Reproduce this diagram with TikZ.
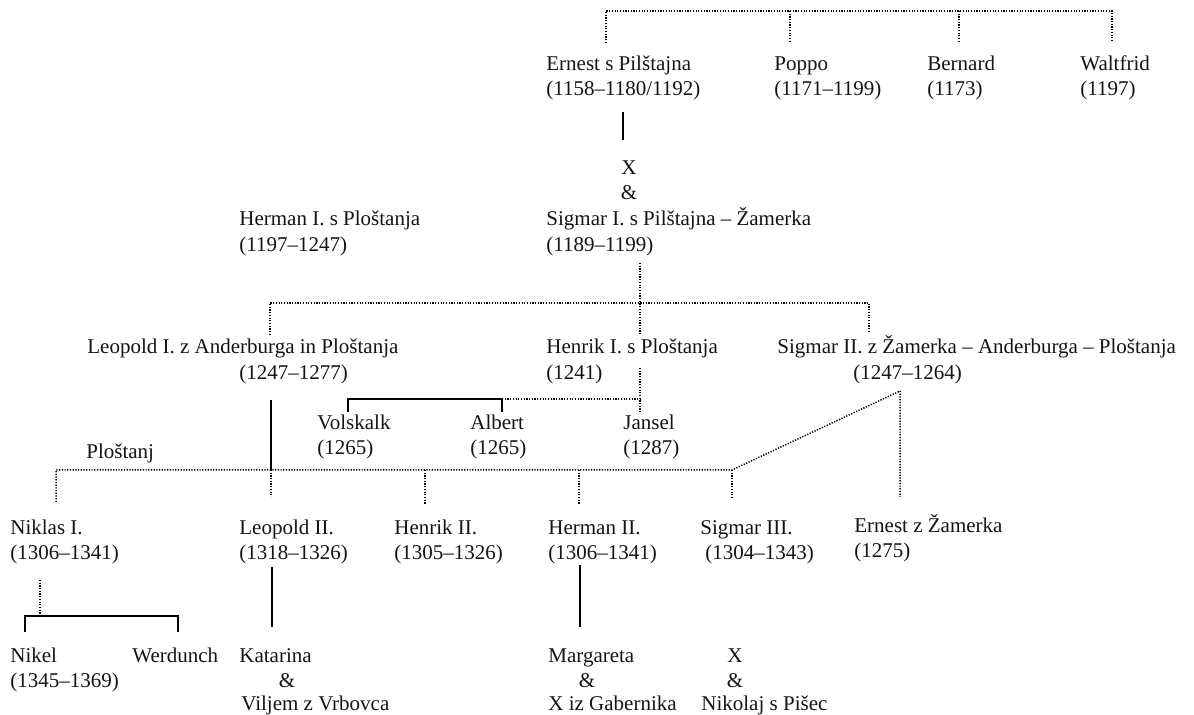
\documentclass[tikz,border=0pt]{standalone}
\usepackage{fontspec}
\setmainfont{Liberation Serif}
\begin{document}
\begin{tikzpicture}[x=0.5pt,y=-0.5pt,
  txt/.style={anchor=base west,inner sep=0pt,font=\fontsize{10.5}{13}\selectfont,text=black!92},
  ctxt/.style={txt,anchor=base},
  sline/.style={line width=0.8pt,line cap=butt},
  dline/.style={line width=0.75pt,dash pattern=on 0.6pt off 0.75pt}]
\useasboundingbox[fill=white] (0,0) rectangle (1194,715);
% ---- text ----
\node[txt] (ernest) at (546,71) {Ernest s Pilštajna};
\node[txt] (ernestd) at (546,96) {(1158–1180/1192)};
\node[txt] (poppo) at (774,71) {Poppo};
\node[txt] (poppod) at (774,96) {(1171–1199)};
\node[txt] (bernard) at (927,71) {Bernard};
\node[txt] (bernardd) at (927,96) {(1173)};
\node[txt] (waltfrid) at (1080,71) {Waltfrid};
\node[txt] (waltfridd) at (1080,96) {(1197)};
\node[ctxt] (x1) at (629,175) {X};
\node[ctxt] (amp1) at (629,200) {\&};
\node[txt] (sigmar1) at (546,226) {Sigmar I. s Pilštajna – Žamerka};
\node[txt] (sigmar1d) at (546,252) {(1189–1199)};
\node[txt] (herman1) at (239,226) {Herman I. s Ploštanja};
\node[txt] (herman1d) at (239,252) {(1197–1247)};
\node[txt] (leopold1) at (87,354) {Leopold I. z Anderburga in Ploštanja};
\node[txt] (leopold1d) at (239,380) {(1247–1277)};
\node[txt] (henrik1) at (546,354) {Henrik I. s Ploštanja};
\node[txt] (henrik1d) at (546,380) {(1241)};
\node[txt] (sigmar2) at (777,354) {Sigmar II. z Žamerka – Anderburga – Ploštanja};
\node[txt] (sigmar2d) at (853,380) {(1247–1264)};
\node[txt] (volskalk) at (317,430) {Volskalk};
\node[txt] (volskalkd) at (317,455) {(1265)};
\node[txt] (albert) at (470,430) {Albert};
\node[txt] (albertd) at (470,455) {(1265)};
\node[txt] (jansel) at (623,430) {Jansel};
\node[txt] (janseld) at (623,455) {(1287)};
\node[txt] (plostanj) at (86,459) {Ploštanj};
\node[txt] (niklas) at (10,535) {Niklas I.};
\node[txt] (niklasd) at (10,560) {(1306–1341)};
\node[txt] (leopold2) at (239,535) {Leopold II.};
\node[txt] (leopold2d) at (239,560) {(1318–1326)};
\node[txt] (henrik2) at (394,535) {Henrik II.};
\node[txt] (henrik2d) at (394,560) {(1305–1326)};
\node[txt] (herman2) at (548,535) {Herman II.};
\node[txt] (herman2d) at (548,560) {(1306–1341)};
\node[txt] (sigmar3) at (700,535) {Sigmar III.};
\node[txt] (sigmar3d) at (705,560) {(1304–1343)};
\node[txt] (ernestz) at (854,533) {Ernest z Žamerka};
\node[txt] (ernestzd) at (854,558) {(1275)};
\node[txt] (nikel) at (10,662) {Nikel};
\node[txt] (nikeld) at (10,687) {(1345–1369)};
\node[txt] (werdunch) at (132,662) {Werdunch};
\node[txt] (katarina) at (239,662) {Katarina};
\node[ctxt] (amp2) at (287,687) {\&};
\node[txt] (viljem) at (241,711) {Viljem z Vrbovca};
\node[txt] (margareta) at (548,662) {Margareta};
\node[ctxt] (amp3) at (587,687) {\&};
\node[txt] (xgab) at (548,711) {X iz Gabernika};
\node[ctxt] (x2) at (735,662) {X};
\node[ctxt] (amp4) at (735,687) {\&};
\node[txt] (nikolaj) at (701,711) {Nikolaj s Pišec};
% ---- junction coordinates ----
\coordinate (t1) at (606,11);  \coordinate (t1b) at (606,43);
\coordinate (t2) at (790,11);  \coordinate (t2b) at (790,43);
\coordinate (t3) at (959,11);  \coordinate (t3b) at (959,42);
\coordinate (t4) at (1112,11); \coordinate (t4b) at (1112,42);
\coordinate (e1) at (623,112); \coordinate (e2) at (623,140);
\coordinate (s1a) at (640,263); \coordinate (s1b) at (640,303); \coordinate (s1c) at (640,335);
\coordinate (h1) at (270,303); \coordinate (h1b) at (270,335);
\coordinate (h2) at (869,303); \coordinate (h2b) at (869,333);
\coordinate (hk1) at (640,368); \coordinate (hk2) at (640,399); \coordinate (hk3) at (640,412);
\coordinate (b1) at (348,412); \coordinate (b2) at (348,399);
\coordinate (b3) at (502,399); \coordinate (b4) at (502,412);
\coordinate (l1) at (271,400); \coordinate (l2) at (271,470);
\coordinate (m0) at (56,470); \coordinate (m0b) at (56,502);
\coordinate (m1b) at (271,497);
\coordinate (m2) at (425,470); \coordinate (m2b) at (425,505);
\coordinate (m3) at (579,470); \coordinate (m3b) at (579,504);
\coordinate (m4) at (732,470); \coordinate (m4b) at (732,498);
\coordinate (d1) at (900,391); \coordinate (d2) at (900,497);
\coordinate (n1) at (40,580); \coordinate (n2) at (40,616);
\coordinate (nb1) at (25,632); \coordinate (nb2) at (25,616);
\coordinate (nb3) at (178,616); \coordinate (nb4) at (178,632);
\coordinate (lp1) at (272,567); \coordinate (lp2) at (272,627);
\coordinate (hm1) at (580,565); \coordinate (hm2) at (580,627);
% ---- connectors ----
\draw[dline] (t1b) -- (t1) -- (t4) -- (t4b);
\draw[dline] (t2) -- (t2b);
\draw[dline] (t3) -- (t3b);
\draw[sline] (e1) -- (e2);
\draw[dline] (s1a) -- (s1c);
\draw[dline] (h1b) -- (h1) -- (h2) -- (h2b);
\draw[dline] (hk1) -- (hk3);
\draw[sline] (b1) -- (b2) -- (b3) -- (b4);
\draw[dline] (b3) -- (hk2);
\draw[sline] (l1) -- (l2);
\draw[dline] (m0b) -- (m0) -- (m4) -- (d1) -- (d2);
\draw[dline] (l2) -- (m1b);
\draw[dline] (m2) -- (m2b);
\draw[dline] (m3) -- (m3b);
\draw[dline] (m4) -- (m4b);
\draw[dline] (n1) -- (n2);
\draw[sline] (nb1) -- (nb2) -- (nb3) -- (nb4);
\draw[sline] (lp1) -- (lp2);
\draw[sline] (hm1) -- (hm2);
\end{tikzpicture}
\end{document}
